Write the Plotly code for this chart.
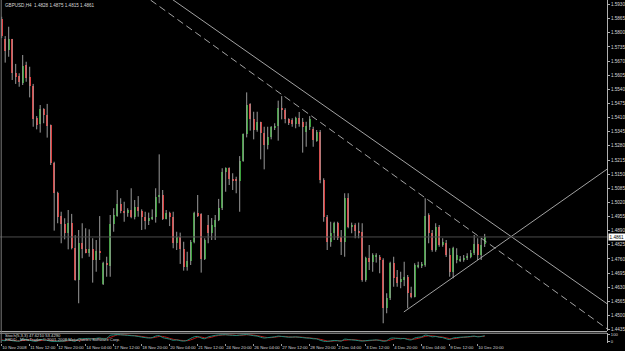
import plotly.graph_objects as go

# ---------------- data ----------------
symbol_title = "GBPUSD,H4  1.4828 1.4875 1.4815 1.4861"
indicator_title = "Stoch(5,3,3) 47.6210 53.4290"
copyright_text = "FXDD - MetaTrader © 2001-2008 MetaQuotes Software Corp."

opens = [1.5862, 1.5770, 1.5721, 1.5770, 1.5614, 1.5601, 1.5571, 1.5652, 1.5595, 1.5555,
         1.5407, 1.5379, 1.5448, 1.5422, 1.5376, 1.5203, 1.5065, 1.4957, 1.4922, 1.4878,
         1.4924, 1.4809, 1.4663, 1.4832, 1.4807, 1.4786, 1.4804, 1.4755, 1.4795, 1.4645,
         1.4743, 1.4727, 1.4921, 1.4957, 1.5013, 1.4982, 1.4973, 1.4985, 1.4951, 1.4997,
         1.4982, 1.4951, 1.4936, 1.4945, 1.4951, 1.5043, 1.5054, 1.4945, 1.4970, 1.4954,
         1.4835, 1.4859, 1.4807, 1.4721, 1.4750, 1.4839, 1.4970, 1.4967, 1.4760, 1.4917,
         1.4878, 1.4908, 1.4939, 1.4993, 1.5158, 1.5177, 1.5128, 1.5124, 1.5120, 1.5210,
         1.5335, 1.5471, 1.5402, 1.5353, 1.5390, 1.5338, 1.5284, 1.5319, 1.5361, 1.5371,
         1.5453, 1.5445, 1.5402, 1.5399, 1.5381, 1.5407, 1.5390, 1.5345, 1.5365, 1.5356,
         1.5304, 1.5345, 1.5123, 1.4954, 1.4839, 1.4878, 1.4927, 1.4862, 1.4839, 1.5039,
         1.4908, 1.4915, 1.4890, 1.4885, 1.4663, 1.4763, 1.4747, 1.4770, 1.4770, 1.4755,
         1.4533, 1.4579, 1.4743, 1.4675, 1.4655, 1.4663, 1.4675, 1.4605, 1.4586, 1.4721,
         1.4727, 1.4732, 1.4962, 1.4878, 1.4801, 1.4908, 1.4824, 1.4832, 1.4778, 1.4701,
         1.4755, 1.4752, 1.4758, 1.4763, 1.4770, 1.4786, 1.4829, 1.4778, 1.4828]
highs = [1.5874, 1.5785, 1.5828, 1.5772, 1.5657, 1.5614, 1.5698, 1.5667, 1.5644, 1.5565,
         1.5417, 1.5468, 1.5453, 1.5473, 1.5378, 1.5207, 1.5069, 1.4977, 1.4947, 1.4985,
         1.4967, 1.4869, 1.4893, 1.4924, 1.4901, 1.4896, 1.4855, 1.4847, 1.4957, 1.4747,
         1.4770, 1.4962, 1.4993, 1.5077, 1.5039, 1.5023, 1.4993, 1.5085, 1.5031, 1.5049,
         1.4988, 1.4977, 1.4973, 1.4988, 1.5085, 1.5241, 1.5077, 1.4985, 1.4977, 1.4977,
         1.4885, 1.4881, 1.4839, 1.4793, 1.4847, 1.4977, 1.5054, 1.4970, 1.4855, 1.4962,
         1.4948, 1.4962, 1.5036, 1.5177, 1.5181, 1.5181, 1.5154, 1.5138, 1.5233, 1.5337,
         1.5526, 1.5476, 1.5437, 1.5437, 1.5391, 1.5368, 1.5368, 1.5371, 1.5384, 1.5488,
         1.5509, 1.5453, 1.5407, 1.5407, 1.5414, 1.5436, 1.5408, 1.5391, 1.5417, 1.5368,
         1.5353, 1.5353, 1.5131, 1.4962, 1.4931, 1.4931, 1.4931, 1.4893, 1.5062, 1.5062,
         1.4927, 1.4924, 1.4927, 1.4924, 1.4770, 1.4824, 1.4786, 1.4786, 1.4778, 1.4763,
         1.4602, 1.4747, 1.4770, 1.4709, 1.4701, 1.4747, 1.4686, 1.4632, 1.4740, 1.4747,
         1.4746, 1.5039, 1.4970, 1.4893, 1.4924, 1.4916, 1.4855, 1.4847, 1.4809, 1.4816,
         1.4809, 1.4773, 1.4778, 1.4786, 1.4801, 1.4870, 1.4855, 1.4855, 1.4875]
lows = [1.5776, 1.5663, 1.5690, 1.5583, 1.5565, 1.5552, 1.5560, 1.5575, 1.5503, 1.5368,
        1.5356, 1.5341, 1.5384, 1.5318, 1.5192, 1.4890, 1.4924, 1.4832, 1.4850, 1.4804,
        1.4804, 1.4660, 1.4556, 1.4763, 1.4786, 1.4770, 1.4651, 1.4701, 1.4755, 1.4640,
        1.4678, 1.4678, 1.4885, 1.4954, 1.4970, 1.4931, 1.4954, 1.4947, 1.4942, 1.4954,
        1.4893, 1.4896, 1.4916, 1.4939, 1.4927, 1.5016, 1.4939, 1.4942, 1.4911, 1.4809,
        1.4801, 1.4737, 1.4706, 1.4706, 1.4732, 1.4832, 1.4953, 1.4697, 1.4755, 1.4832,
        1.4847, 1.4847, 1.4934, 1.4985, 1.5069, 1.5100, 1.5077, 1.5062, 1.4977, 1.5207,
        1.5319, 1.5350, 1.5310, 1.5345, 1.5218, 1.5172, 1.5264, 1.5310, 1.5353, 1.5304,
        1.5402, 1.5384, 1.5376, 1.5368, 1.5361, 1.5368, 1.5249, 1.5276, 1.5353, 1.5276,
        1.5299, 1.5108, 1.4931, 1.4801, 1.4816, 1.4847, 1.4847, 1.4778, 1.4770, 1.4901,
        1.4878, 1.4855, 1.4855, 1.4655, 1.4655, 1.4709, 1.4701, 1.4743, 1.4694, 1.4464,
        1.4510, 1.4571, 1.4632, 1.4632, 1.4625, 1.4635, 1.4533, 1.4579, 1.4583, 1.4717,
        1.4718, 1.4724, 1.4832, 1.4793, 1.4793, 1.4816, 1.4816, 1.4769, 1.4678, 1.4671,
        1.4740, 1.4746, 1.4747, 1.4755, 1.4763, 1.4778, 1.4755, 1.4755, 1.4815]
closes = [1.5785, 1.5718, 1.5770, 1.5617, 1.5598, 1.5575, 1.5647, 1.5594, 1.5555, 1.5405,
          1.5376, 1.5451, 1.5423, 1.5373, 1.5203, 1.5065, 1.4954, 1.4922, 1.4878, 1.4924,
          1.4809, 1.4663, 1.4835, 1.4807, 1.4789, 1.4804, 1.4755, 1.4795, 1.4790, 1.4743,
          1.4731, 1.4921, 1.4961, 1.5013, 1.4982, 1.4970, 1.4985, 1.4951, 1.4997, 1.4982,
          1.4951, 1.4936, 1.4947, 1.4954, 1.5043, 1.5054, 1.4942, 1.4970, 1.4954, 1.4835,
          1.4859, 1.4804, 1.4721, 1.4750, 1.4839, 1.4970, 1.4961, 1.4760, 1.4847, 1.4878,
          1.4917, 1.4939, 1.4993, 1.5158, 1.5177, 1.5128, 1.5120, 1.5120, 1.5210, 1.5335,
          1.5468, 1.5402, 1.5353, 1.5390, 1.5338, 1.5284, 1.5319, 1.5368, 1.5371, 1.5453,
          1.5445, 1.5402, 1.5384, 1.5381, 1.5407, 1.5379, 1.5367, 1.5371, 1.5402, 1.5307,
          1.5345, 1.5123, 1.4954, 1.4839, 1.4878, 1.4924, 1.4855, 1.4839, 1.5039, 1.4908,
          1.4915, 1.4890, 1.4881, 1.4663, 1.4763, 1.4747, 1.4778, 1.4778, 1.4755, 1.4533,
          1.4579, 1.4743, 1.4671, 1.4648, 1.4666, 1.4675, 1.4602, 1.4586, 1.4732, 1.4732,
          1.4737, 1.4957, 1.4878, 1.4801, 1.4908, 1.4824, 1.4839, 1.4778, 1.4701, 1.4809,
          1.4778, 1.4758, 1.4763, 1.4773, 1.4786, 1.4829, 1.4778, 1.4824, 1.4861]

stoch_main = [20, 15, 30, 15, 10, 8, 35, 30, 20,
              10, 8, 30, 25, 20, 8, 5,
              5, 8, 10, 25, 15, 8,
              35, 40, 42, 45, 35, 45, 50,
              40, 45, 85, 90, 95, 92,
              88, 85, 80, 78, 70,
              62, 55, 50, 55, 75, 80, 55, 45, 35,
              20, 25, 15, 10, 20,
              45, 65, 70, 50, 40,
              65, 75, 85, 90, 92, 93, 88, 85, 82, 88, 92, 95, 88,
              80, 75, 60, 50, 55, 60,
              65, 75, 70, 65, 60, 62, 65, 60,
              55, 50, 48, 40, 38,
              20, 8, 5, 12, 18, 15, 10, 35,
              30, 25, 22, 15, 10, 15, 20, 22, 25,
              18, 8, 15, 45, 50, 45, 40,
              45, 30, 25, 50, 60, 65, 88,
              80, 65, 70, 60, 55, 40, 30,
              50, 55, 60, 62, 65, 70,
              75, 65, 70, 80]
stoch_signal = [25, 20, 22, 20, 15, 11, 18, 24, 28,
                20, 13, 16, 21, 25, 18, 11,
                6, 6, 8, 14, 17, 16,
                20, 28, 39, 42, 41, 42, 43,
                45, 45, 57, 73, 90, 92,
                92, 88, 84, 81, 76,
                70, 62, 56, 53, 60, 70, 70, 60, 45,
                33, 27, 20, 17, 15,
                25, 43, 60, 62, 53,
                52, 60, 75, 83, 89, 92, 91, 89, 85, 85, 87, 92, 92,
                88, 81, 72, 62, 55, 55,
                60, 67, 70, 70, 65, 62, 62, 62,
                60, 55, 51, 46, 42,
                33, 22, 11, 8, 12, 15, 14, 20,
                25, 30, 26, 21, 16, 13, 15, 19, 22,
                22, 17, 14, 23, 37, 47, 45,
                43, 38, 33, 35, 45, 58, 71,
                78, 78, 72, 65, 62, 52, 42,
                40, 45, 55, 59, 62, 66,
                70, 70, 70, 72]

# time-axis labels (bar index of each label, label text)
time_tick_bars = [0, 8, 16, 24, 32, 40, 48, 56, 64, 72, 80, 88, 96, 104, 112, 120, 128, 136]
time_tick_labels = ["10 Nov 2008", "11 Nov 12:00", "12 Nov 20:00", "14 Nov 04:00",
                    "17 Nov 12:00", "18 Nov 20:00", "20 Nov 04:00", "21 Nov 12:00",
                    "24 Nov 20:00", "26 Nov 04:00", "27 Nov 12:00", "28 Nov 20:00",
                    "2 Dec 04:00", "3 Dec 12:00", "4 Dec 20:00", "8 Dec 04:00",
                    "9 Dec 12:00", "10 Dec 20:00"]
price_tick_labels = ["1.5930", "1.5865", "1.5800", "1.5735", "1.5670", "1.5605", "1.5540",
                     "1.5475", "1.5410", "1.5345", "1.5280", "1.5215", "1.5150", "1.5085",
                     "1.5020", "1.4955", "1.4890", "1.4825", "1.4760", "1.4695", "1.4630",
                     "1.4565", "1.4500", "1.4435"]
stoch_tick_labels = ["0", "100"]

# trend lines drawn on the chart: (bar index, price) anchors
trend_solid_bars = [45, 175]
trend_solid_prices = [1.5996, 1.4531]
trend_dashed_bars = [40, 175]
trend_dashed_prices = [1.5980, 1.4415]
support_bars = [114.9, 175]
support_prices = [1.4516, 1.5196]

# ---------------- figure ----------------
BULL = "#27a327"
BEAR = "#ee2d2d"
WICK = "#9a9a9a"
TXT = "#d8d8d8"
LINE = "#b4b4b4"
FONT = "Liberation Sans"

n = len(opens)
idx = list(range(n))

wx, wy = [], []
for i in idx:
    wx += [i, i, None]
    wy += [lows[i], highs[i], None]

body_base = [min(o, c) for o, c in zip(opens, closes)]
body_h = [max(abs(c - o), 0.00025) for o, c in zip(opens, closes)]
body_col = [BULL if c >= o else BEAR for o, c in zip(opens, closes)]

fig = go.Figure()
fig.add_trace(go.Scatter(x=wx, y=wy, mode="lines", line=dict(color=WICK, width=1),
                         hoverinfo="skip", xaxis="x", yaxis="y"))
fig.add_trace(go.Bar(x=idx, y=body_h, base=body_base, width=0.68,
                     marker=dict(color=body_col, line=dict(width=0)),
                     xaxis="x", yaxis="y"))
fig.add_trace(go.Scatter(x=trend_solid_bars, y=trend_solid_prices, mode="lines",
                         line=dict(color=LINE, width=0.9), xaxis="x", yaxis="y"))
fig.add_trace(go.Scatter(x=trend_dashed_bars, y=trend_dashed_prices, mode="lines",
                         line=dict(color=LINE, width=0.9, dash="7px,4px"),
                         xaxis="x", yaxis="y"))
fig.add_trace(go.Scatter(x=support_bars, y=support_prices, mode="lines",
                         line=dict(color=LINE, width=0.9), xaxis="x", yaxis="y"))
fig.add_trace(go.Scatter(x=idx, y=stoch_signal, mode="lines",
                         line=dict(color="#c01818", width=1, shape="spline"),
                         xaxis="x", yaxis="y2"))
fig.add_trace(go.Scatter(x=idx, y=stoch_main, mode="lines",
                         line=dict(color="#1e8c7c", width=1, shape="spline"),
                         xaxis="x", yaxis="y2"))

W, H = 625, 351
PLOT_W, PLOT_H = 607, 343
MAIN_BOTTOM_PX = 331
IND_TOP_PX = 333


def py(p):
    return (PLOT_H - p) / PLOT_H


shapes = [
    dict(type="line", xref="paper", yref="y", x0=0, x1=1, y0=closes[-1], y1=closes[-1],
         line=dict(color="#4c4c4c", width=1)),
    dict(type="line", xref="paper", yref="paper", x0=0, x1=1, y0=py(331.5), y1=py(331.5),
         line=dict(color="#a8a8a8", width=1)),
    dict(type="line", xref="paper", yref="paper", x0=0, x1=1, y0=py(333.2), y1=py(333.2),
         line=dict(color="#a8a8a8", width=1)),
    dict(type="line", xref="paper", yref="paper", x0=1.2 / PLOT_W, x1=1.2 / PLOT_W, y0=0, y1=1,
         line=dict(color="#7a7a7a", width=1)),
]

annotations = [
    dict(text=symbol_title, xref="paper", yref="paper", x=3 / PLOT_W, y=py(5),
         xanchor="left", yanchor="middle", showarrow=False,
         font=dict(family=FONT, size=4.6, color=TXT)),
    dict(text=indicator_title, xref="paper", yref="paper", x=3 / PLOT_W, y=py(335.6),
         xanchor="left", yanchor="middle", showarrow=False,
         font=dict(family=FONT, size=4.2, color=TXT)),
    dict(text=copyright_text, xref="paper", yref="paper", x=3 / PLOT_W, y=py(339.4),
         xanchor="left", yanchor="middle", showarrow=False,
         font=dict(family=FONT, size=4.2, color=TXT)),
    dict(text="%.4f" % closes[-1], xref="paper", yref="y", x=1, xshift=1, y=closes[-1],
         xanchor="left", yanchor="middle", showarrow=False, bgcolor="#ffffff",
         borderpad=0.6, font=dict(family=FONT, size=4.6, color="#000000")),
]

x0 = -1.7 / 3.5
x1 = (PLOT_W - 1.7) / 3.5
price_top = 1.5951
price_bot = 1.5951 - 0.00046 * MAIN_BOTTOM_PX

fig.update_layout(
    width=W, height=H,
    margin=dict(l=0, r=W - PLOT_W, t=0, b=H - PLOT_H, autoexpand=False),
    paper_bgcolor="#000000", plot_bgcolor="#000000",
    showlegend=False, bargap=0,
    font=dict(family=FONT, size=4.6, color=TXT),
    xaxis=dict(range=[x0, x1], anchor="y2", showgrid=False, zeroline=False,
               tickmode="array", tickvals=time_tick_bars, ticktext=time_tick_labels,
               ticks="outside", ticklen=2, tickcolor="#9a9a9a", tickwidth=1,
               tickangle=0, automargin=False,
               ticklabelposition="outside right",
               tickfont=dict(family=FONT, size=4.3, color=TXT), showline=False,
               fixedrange=True),
    yaxis=dict(domain=[py(MAIN_BOTTOM_PX), 1], range=[price_bot, price_top], side="right",
               anchor="x", showgrid=False, zeroline=False, tickmode="array",
               tickvals=[float(s) for s in price_tick_labels], ticktext=price_tick_labels,
               ticks="outside", ticklen=2, tickcolor="#b0b0b0", automargin=False,
               showline=True, linecolor="#b0b0b0", linewidth=1,
               tickfont=dict(family=FONT, size=4.6, color=TXT)),
    yaxis2=dict(domain=[0, py(IND_TOP_PX)], range=[-15, 115], side="right", anchor="x",
                showgrid=False, zeroline=False, tickmode="array",
                tickvals=[0, 100], ticktext=stoch_tick_labels, automargin=False,
                ticks="outside", ticklen=2, tickcolor="#b0b0b0",
                showline=True, linecolor="#b0b0b0", linewidth=1,
                tickfont=dict(family=FONT, size=4.2, color=TXT)),
    shapes=shapes,
    annotations=annotations,
)

fig.write_html("out.html", config={"displayModeBar": False})
